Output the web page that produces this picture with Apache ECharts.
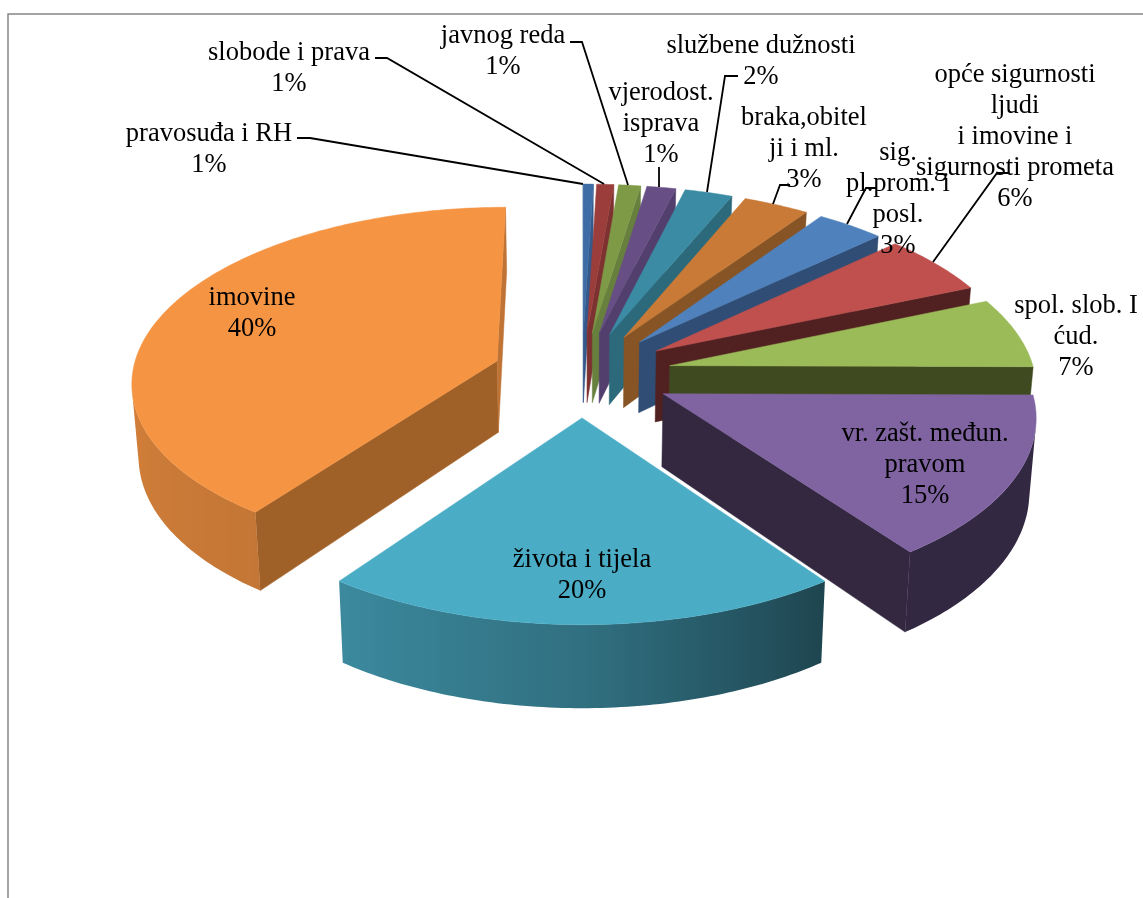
<!DOCTYPE html>
<html>
<head>
<meta charset="utf-8">
<script src="https://cdn.jsdelivr.net/npm/echarts@6/dist/echarts.min.js"></script>
<style>html,body{margin:0;padding:0;background:#fff}#c{width:1143px;height:898px}</style>
</head>
<body>
<div id="c"></div>
<script>
const categories = ['pravosuđa i RH','slobode i prava','javnog reda','vjerodost.\nisprava','službene dužnosti','braka,obitel\nji i ml.','sig.\npl.prom. i\nposl.','opće sigurnosti\nljudi\ni imovine i\nsigurnosti prometa','spol. slob. I\nćud.','vr. zašt. međun.\npravom','života i tijela','imovine'];
const values = [0.5,0.85,1.1,1.45,2.4,3.3,3.4,5.6,6.5,14.9,20,40];

const topColors = ['#3e6da5','#9a3d3b','#7f9a47','#674f85','#3a8ba3','#c87a36','#4f81bd','#bf504d','#9bbb59','#8064a2','#4bacc6','#f59443'];
const sideColors = ['#34598a','#7d3231','#67803d','#533f6e','#2c6a7b','#875426','#2f4d75','#512020','#404a20','#332840','#1e4550','#a06129'];
// label centre (x, y)
const labelAt = [[209,150],[289,69],[503,52],[661,124],[761,62],[804,149],[898,200],[1015,137],[1076,337],[925,465],[582,576],[252,314]];
// leader lines
const leaders = [
  [[297,138],[310,138],[583,184]],
  [[375,58],[387,58],[604,184]],
  [[570,42],[582,42],[628,185]],
  [[659,167],[659,187]],
  [[738,76],[725,76],[707,192]],
  [[790,185],[780,185],[773,204]],
  [[877,188],[866,188],[847,224]],
  [[1008,173],[997,173],[933,262]],
  null,null,null,null
];

// projection of the tilted, exploded pie
const CX=582, CY=374, K=0.475, DIST=3300, R=365, EXPLODE=90, H=72, TAPER=0.985;
const total = values.reduce((a,b)=>a+b,0);
const starts = values.map((_,i)=>values.slice(0,i).reduce((a,b)=>a+b,0));
const mids = values.map((v,i)=>(starts[i]+v/2)/total*2*Math.PI);
const rank = values.map((_,i)=>i).sort((a,b)=>-Math.cos(mids[a])- -Math.cos(mids[b]));

function project(X,Y,lower){
  const s=1/(1-Y/DIST);
  let x=CX+X*s, y=CY+K*Y*s;
  if(lower){ x=CX+(x-CX)*TAPER; y+=H*s; }
  return [x,y];
}
function hexShade(hex,f){
  const n=parseInt(hex.slice(1),16);
  const c=[(n>>16)&255,(n>>8)&255,n&255].map(v=>Math.round(v*f));
  return 'rgb('+c.join(',')+')';
}
function light(deg){
  const t=[[0,.4],[144,.4],[180,.65],[216,.8],[270,.87],[360,.87]];
  for(let i=1;i<t.length;i++){
    if(deg<=t[i][0]){
      const a=t[i-1],b=t[i];
      return a[1]+(b[1]-a[1])*(deg-a[0])/(b[0]-a[0]);
    }
  }
  return .87;
}
function face(points,fill,z2){
  return {type:'polygon',z2:z2,shape:{points:points},style:{fill:fill,stroke:typeof fill==='string'?fill:null,lineWidth:typeof fill==='string'?0.5:0}};
}
function cross(a,b,c){return (b[0]-a[0])*(c[1]-a[1])-(b[1]-a[1])*(c[0]-a[0]);}

function renderSlice(params,api){
  const i=api.value(0), v=api.value(1), st=api.value(2);
  const a1=st/total*2*Math.PI, a2=(st+v)/total*2*Math.PI, am=(a1+a2)/2;
  const ox=EXPLODE*Math.sin(am), oy=-EXPLODE*Math.cos(am);
  const n=Math.max(6,Math.round(v*4));
  const angs=[]; for(let j=0;j<=n;j++) angs.push(a1+(a2-a1)*j/n);
  const world=a=>[ox+R*Math.sin(a),oy-R*Math.cos(a)];
  const top=angs.map(a=>{const w=world(a);return project(w[0],w[1],false);});
  const bot=angs.map(a=>{const w=world(a);return project(w[0],w[1],true);});
  const apexT=project(ox,oy,false), apexB=project(ox,oy,true);
  const z=rank.indexOf(i)*10+1;
  const kids=[];
  const base=topColors[i];

  // radial walls
  if(cross(apexT,top[0],bot[0])<0){
    kids.push(face([apexT,top[0],bot[0],apexB],sideColors[i],z));
  }
  if(cross(apexT,top[n],bot[n])>0){
    kids.push(face([apexT,top[n],bot[n],apexB],a2>Math.PI?hexShade(base,.78):sideColors[i],z));
  }
  // outer wall, only the segments facing the viewer
  const seg=[];
  for(let j=0;j<n;j++){
    if(cross(top[j],top[j+1],bot[j])<0) seg.push(j);
  }
  if(seg.length){
    const from=seg[0], to=seg[seg.length-1]+1;
    const tp=top.slice(from,to+1), bp=bot.slice(from,to+1).reverse();
    const xs=tp.concat(bp).map(p=>p[0]);
    const minX=Math.min(...xs), maxX=Math.max(...xs);
    const stops=[];
    for(let j=from;j<=to;j++){
      stops.push({x:(top[j][0]-minX)/(maxX-minX),c:hexShade(base,light(angs[j]*180/Math.PI))});
    }
    stops.sort((a,b)=>a.x-b.x);
    const fill={type:'linear',x:0,y:0,x2:1,y2:0,colorStops:stops.map(s=>({offset:Math.min(1,Math.max(0,s.x)),color:s.c}))};
    kids.push(face(tp.concat(bp),fill,z+1));
  }
  // top surface
  kids.push(face([apexT].concat(top),base,z+2));

  // leader + label
  if(leaders[i]){
    kids.push({type:'polyline',z2:500,shape:{points:leaders[i]},style:{stroke:'#000',lineWidth:1.8,fill:null}});
  }
  kids.push({type:'text',z2:600,style:{
    text:categories[i]+'\n'+Math.round(v/total*100)+'%',
    x:labelAt[i][0],y:labelAt[i][1],align:'center',verticalAlign:'middle',
    fontFamily:'"Liberation Serif"',fontSize:26.5,lineHeight:31,fill:'#000'
  }});
  return {type:'group',children:kids};
}

const chart=echarts.init(document.getElementById('c'),null,{renderer:'canvas'});
chart.setOption({
  animation:false,
  backgroundColor:'#fff',
  graphic:[{type:'polyline',silent:true,shape:{points:[[8,898],[8,14],[1143,14]]},style:{stroke:'#868686',lineWidth:1.5,fill:null}}],
  series:[{
    type:'custom',
    coordinateSystem:'none',
    renderItem:renderSlice,
    data:values.map((v,i)=>[i,v,starts[i]])
  }]
});
</script>
</body>
</html>
